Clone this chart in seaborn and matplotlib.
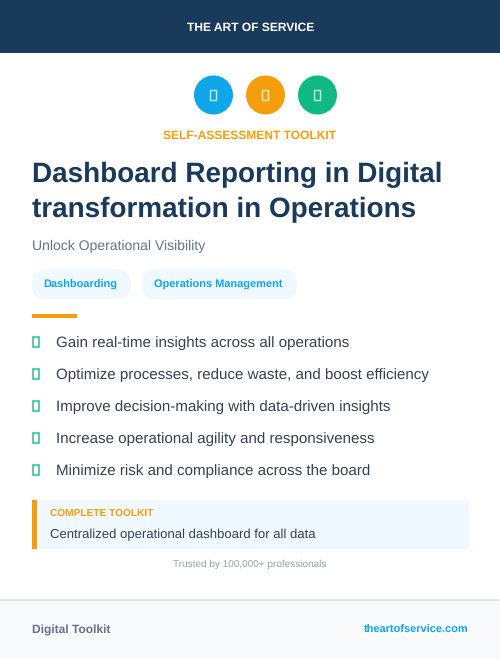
import matplotlib
matplotlib.use("Agg")
import matplotlib.pyplot as plt
from matplotlib.patches import FancyBboxPatch, Rectangle
import pandas as pd
import seaborn as sns

brand = "THE ART OF SERVICE"
kicker = "SELF-ASSESSMENT TOOLKIT"
title_lines = ["Dashboard Reporting in Digital", "transformation in Operations"]
subtitle = "Unlock Operational Visibility"
tags = ["Dashboarding", "Operations Management"]
benefits = [
    "Gain real-time insights across all operations",
    "Optimize processes, reduce waste, and boost efficiency",
    "Improve decision-making with data-driven insights",
    "Increase operational agility and responsiveness",
    "Minimize risk and compliance across the board",
]
callout_label = "COMPLETE TOOLKIT"
callout_text = "Centralized operational dashboard for all data"
trusted = "Trusted by 100,000+ professionals"
footer_left = "Digital Toolkit"
footer_right = "theartofservice.com"
badge_names = ["blue", "amber", "green"]
badge_colors = ["#0ea5e9", "#f59e0b", "#10b981"]

NAVY = "#1a3a5c"
AMBER = "#f59e0b"
SKY = "#0ea5e9"
PALE = "#f0f9ff"


def px(size):
    # css pixels to points at dpi 100
    return size * 0.72


def box(ax, x0, y0, x1, y1, color, **kw):
    ax.add_patch(Rectangle((x0, y0), x1 - x0, y1 - y0, facecolor=color, edgecolor="none", **kw))


sns.set_theme(style="white")
plt.rcParams["font.family"] = ["Liberation Sans", "DejaVu Sans"]
plt.rcParams["text.hinting"] = "no_hinting"

fig = plt.figure(figsize=(5, 6.59), dpi=100)
ax = fig.add_axes([0, 0, 1, 1])

# header and footer bands
box(ax, 0, 0, 500, 53, NAVY)
box(ax, 0, 600, 500, 659, "#f8fafc")
box(ax, 0, 599, 500, 601, "#e2e8f0")

# three badges along one row, spaced 52 px
badges = pd.DataFrame({"name": badge_names, "slot": range(len(badge_names))})
badges["x"] = 213.5 + 52 * badges["slot"]
badges["y"] = 95
sns.scatterplot(
    data=badges, x="x", y="y", hue="name", palette=badge_colors,
    s=px(39) ** 2, linewidth=0, legend=False, ax=ax, zorder=3,
)
for x in badges["x"]:
    ax.add_patch(Rectangle((x - 3.8, 89.8), 6.5, 10.4, facecolor="none", edgecolor="white",
                           linewidth=1.0, alpha=0.8, zorder=4))

ax.text(250.5, 28, brand, color="white", fontsize=px(12), fontweight="bold", ha="center", va="center")
ax.text(249.5, 136, kicker, color=AMBER, fontsize=px(12), fontweight="bold", ha="center", va="center")
ax.text(32, 175, title_lines[0], color=NAVY, fontsize=px(27.93), fontweight="bold", va="center")
ax.text(32, 210, title_lines[1], color=NAVY, fontsize=px(27.93), fontweight="bold", va="center")
ax.text(32, 246, subtitle, color="#64748b", fontsize=px(14), va="center")

# pill tags
pill_spans = [(32, 131), (142, 297)]
for tag, (x0, x1) in zip(tags, pill_spans):
    ax.add_patch(FancyBboxPatch((x0 + 14.5, 270 + 14), x1 - x0 - 29, 1,
                                boxstyle="round,pad=14.5,rounding_size=14.5",
                                facecolor=PALE, edgecolor="none"))
    ax.text(x0 + 11.7, 285, tag, color=SKY, fontsize=px(11.05), fontweight="bold", va="center")

box(ax, 32, 314, 77, 318, AMBER)

# benefit rows
for i, line in enumerate(benefits):
    y = 342 + 32 * i
    ax.add_patch(Rectangle((32.8, y - 4.7), 6.4, 10, facecolor="none", edgecolor="#10b981", linewidth=1.1, alpha=0.9))
    ax.text(56, y + 1, line, color="#334155", fontsize=px(15.15), va="center")

# callout
box(ax, 32, 500, 469, 549, PALE)
box(ax, 32, 500, 37, 549, AMBER)
ax.text(50, 514, callout_label, color=AMBER, fontsize=px(10.1), fontweight="bold", va="center")
ax.text(50, 535, callout_text, color="#334155", fontsize=px(13.08), va="center")
ax.text(250, 564, trusted, color="#94a3b8", fontsize=px(10), ha="center", va="center")

ax.text(32, 630, footer_left, color="#64748b", fontsize=px(12), fontweight="bold", va="center")
ax.text(468, 630, footer_right, color=SKY, fontsize=px(11), fontweight="bold", ha="right", va="center")

ax.set_xlim(0, 500)
ax.set_ylim(659, 0)
ax.axis("off")
fig.savefig("out.png", dpi=100)
